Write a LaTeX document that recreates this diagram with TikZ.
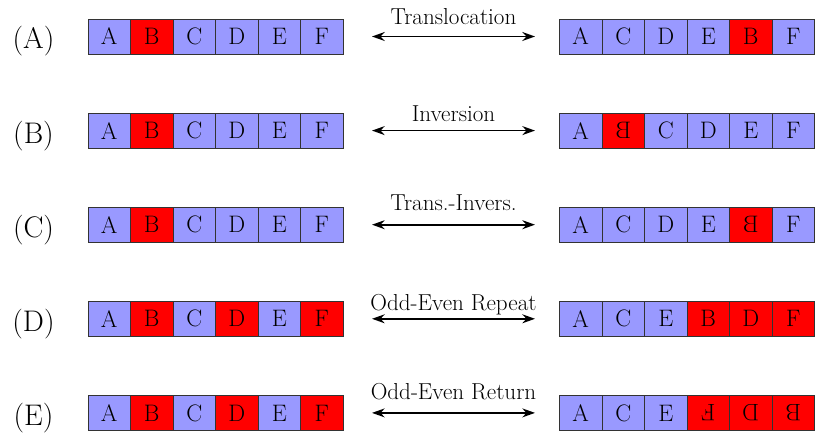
\documentclass[tikz,border=0pt]{standalone}
\usetikzlibrary{arrows.meta}
\definecolor{cellblue}{RGB}{153,153,255}
\definecolor{cellred}{RGB}{255,0,0}
\tikzset{
  cell/.style={draw=black!80, line width=0.6pt, minimum width=28.53pt, minimum height=23.5pt,
               inner sep=0pt, outer sep=0pt, font=\fontsize{16}{19}\selectfont},
  bcell/.style={cell, fill=cellblue},
  rcell/.style={cell, fill=cellred},
  rowlbl/.style={font=\fontsize{20}{24}\selectfont, inner sep=0pt},
  oplbl/.style={font=\fontsize{15.5}{18}\selectfont, inner sep=0pt, anchor=base},
  dblarrow/.style={{Stealth[length=8.5pt,width=6pt]}-{Stealth[length=8.5pt,width=6pt]}, line width=1.1pt}
}
\newcommand{\mir}[1]{\scalebox{-1}[1]{#1}}
\newcommand{\rot}[1]{\rotatebox[origin=c]{180}{#1}}
\begin{document}
\begin{tikzpicture}[x=0.6714pt,y=-0.6714pt]
\useasboundingbox (0,0) rectangle (815,439);
\def\ya{36.5}\def\yb{130.6}\def\yc{224.7}\def\yd{318.8}\def\ye{412.9}
% ---------- Row A ----------
\node[rowlbl] (la) at (33.5,41.5) {(A)};
\node[bcell] (a1) at (109.25,\ya) {A};
\node[rcell] (a2) at (151.75,\ya) {B};
\node[bcell] (a3) at (194.25,\ya) {C};
\node[bcell] (a4) at (236.75,\ya) {D};
\node[bcell] (a5) at (279.25,\ya) {E};
\node[bcell] (a6) at (321.75,\ya) {F};
\node[bcell] (ar1) at (580.75,\ya) {A};
\node[bcell] (ar2) at (623.25,\ya) {C};
\node[bcell] (ar3) at (665.75,\ya) {D};
\node[bcell] (ar4) at (708.25,\ya) {E};
\node[rcell] (ar5) at (750.75,\ya) {B};
\node[bcell] (ar6) at (793.25,\ya) {F};
\coordinate (sa) at (372,\ya); \coordinate (ea) at (535,\ya);
\draw[dblarrow] (sa) -- (ea);
\node[oplbl] (ta) at (453.5,25) {Translocation};
% ---------- Row B ----------
\node[rowlbl] (lb) at (33.5,135.6) {(B)};
\node[bcell] (b1) at (109.25,\yb) {A};
\node[rcell] (b2) at (151.75,\yb) {B};
\node[bcell] (b3) at (194.25,\yb) {C};
\node[bcell] (b4) at (236.75,\yb) {D};
\node[bcell] (b5) at (279.25,\yb) {E};
\node[bcell] (b6) at (321.75,\yb) {F};
\node[bcell] (br1) at (580.75,\yb) {A};
\node[rcell] (br2) at (623.25,\yb) {\mir{B}};
\node[bcell] (br3) at (665.75,\yb) {C};
\node[bcell] (br4) at (708.25,\yb) {D};
\node[bcell] (br5) at (750.75,\yb) {E};
\node[bcell] (br6) at (793.25,\yb) {F};
\coordinate (sb) at (372,\yb); \coordinate (eb) at (535,\yb);
\draw[dblarrow] (sb) -- (eb);
\node[oplbl] (tb) at (453.5,121.5) {Inversion};
% ---------- Row C ----------
\node[rowlbl] (lc) at (33.5,229.7) {(C)};
\node[bcell] (c1) at (109.25,\yc) {A};
\node[rcell] (c2) at (151.75,\yc) {B};
\node[bcell] (c3) at (194.25,\yc) {C};
\node[bcell] (c4) at (236.75,\yc) {D};
\node[bcell] (c5) at (279.25,\yc) {E};
\node[bcell] (c6) at (321.75,\yc) {F};
\node[bcell] (cr1) at (580.75,\yc) {A};
\node[bcell] (cr2) at (623.25,\yc) {C};
\node[bcell] (cr3) at (665.75,\yc) {D};
\node[bcell] (cr4) at (708.25,\yc) {E};
\node[rcell] (cr5) at (750.75,\yc) {\mir{B}};
\node[bcell] (cr6) at (793.25,\yc) {F};
\coordinate (sc) at (372,\yc); \coordinate (ec) at (535,\yc);
\draw[dblarrow] (sc) -- (ec);
\node[oplbl] (tc) at (453.5,211) {Trans.-Invers.};
% ---------- Row D ----------
\node[rowlbl] (ld) at (33.5,323.8) {(D)};
\node[bcell] (d1) at (109.25,\yd) {A};
\node[rcell] (d2) at (151.75,\yd) {B};
\node[bcell] (d3) at (194.25,\yd) {C};
\node[rcell] (d4) at (236.75,\yd) {D};
\node[bcell] (d5) at (279.25,\yd) {E};
\node[rcell] (d6) at (321.75,\yd) {F};
\node[bcell] (dr1) at (580.75,\yd) {A};
\node[bcell] (dr2) at (623.25,\yd) {C};
\node[bcell] (dr3) at (665.75,\yd) {E};
\node[rcell] (dr4) at (708.25,\yd) {B};
\node[rcell] (dr5) at (750.75,\yd) {D};
\node[rcell] (dr6) at (793.25,\yd) {F};
\coordinate (sd) at (372,\yd); \coordinate (ed) at (535,\yd);
\draw[dblarrow] (sd) -- (ed);
\node[oplbl] (td) at (453.5,310.5) {Odd-Even Repeat};
% ---------- Row E ----------
\node[rowlbl] (le) at (33.5,417.9) {(E)};
\node[bcell] (e1) at (109.25,\ye) {A};
\node[rcell] (e2) at (151.75,\ye) {B};
\node[bcell] (e3) at (194.25,\ye) {C};
\node[rcell] (e4) at (236.75,\ye) {D};
\node[bcell] (e5) at (279.25,\ye) {E};
\node[rcell] (e6) at (321.75,\ye) {F};
\node[bcell] (er1) at (580.75,\ye) {A};
\node[bcell] (er2) at (623.25,\ye) {C};
\node[bcell] (er3) at (665.75,\ye) {E};
\node[rcell] (er4) at (708.25,\ye) {\rot{F}};
\node[rcell] (er5) at (750.75,\ye) {\rot{D}};
\node[rcell] (er6) at (793.25,\ye) {\rot{B}};
\coordinate (se) at (372,\ye); \coordinate (ee) at (535,\ye);
\draw[dblarrow] (se) -- (ee);
\node[oplbl] (te) at (453.5,400) {Odd-Even Return};
\end{tikzpicture}
\end{document}
